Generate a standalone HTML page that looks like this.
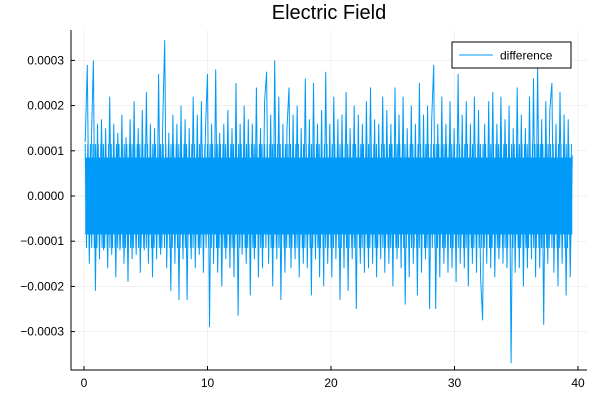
<!DOCTYPE html>
<html><head><meta charset="utf-8"><style>
body{margin:0;background:#fff}
svg{display:block;font-family:"Liberation Sans","DejaVu Sans",sans-serif}
</style></head><body>
<svg id="chart" width="600" height="400">
<text x="329" y="19" text-anchor="middle" font-size="20">Electric Field</text>
<g id="grid"></g>
<g id="series"></g>
<g id="axes"></g>
<g>
<rect x="452" y="42" width="119" height="26" fill="#fff" stroke="#000" stroke-width="1"/>
<line x1="459" y1="55" x2="493" y2="55" stroke="#009af9" stroke-width="1"/>
<text x="500" y="59.5" font-size="12">difference</text>
</g>
</svg>
<script>
const xTicks=[0,10,20,30,40];
const yTicks=[-0.0003,-0.0002,-0.0001,0,0.0001,0.0002,0.0003];
const yTickLabels=["\u22120.0003","\u22120.0002","\u22120.0001","0.0000","0.0001","0.0002","0.0003"];
const xStart=0.1, xStep=0.165;
const bandHalfWidth=[0.85,1.15];
// signal values in units of 1e-4
const values=[
 1.2,2.9,-1.5,1.1,3.0,-2.1,1.6,-1.4,1.7,-1.2,
 1.5,-1.6,2.2,-1.3,1.6,-1.8,1.4,-1.2,1.8,-1.5,
 1.3,-1.9,1.7,-1.4,2.1,-1.3,1.5,-1.7,1.9,-1.2,
 2.3,-1.5,1.6,-1.8,1.5,-1.4,2.7,-1.3,1.6,3.45,
 -1.6,1.4,-2.1,1.8,-1.5,1.6,-2.3,2.0,-1.4,1.7,
 -2.3,1.5,-1.4,2.2,-1.6,1.8,-1.3,2.1,-1.7,1.5,
 2.7,-2.9,1.6,-1.5,2.8,-1.7,1.4,-2.0,1.6,-1.4,
 1.9,-1.6,1.5,-1.8,2.5,-2.65,1.6,-1.3,2.0,-1.5,
 1.7,-2.2,1.6,-1.4,2.4,-1.8,1.5,-1.6,2.1,2.75,
 -1.5,1.8,-2.0,3.0,-1.4,2.2,-2.3,1.6,-1.7,1.5,
 2.4,-1.6,1.8,-1.4,2.0,-1.8,1.5,-1.5,2.6,-1.6,
 1.7,-2.2,2.5,-1.4,1.6,-1.8,1.9,-2.0,2.75,-1.5,
 1.6,-1.8,2.2,-1.4,1.7,-2.3,1.8,-1.6,2.3,-2.1,
 1.5,-1.4,2.0,-2.5,1.8,-1.5,1.6,-1.7,2.1,-1.6,
 2.4,-1.5,1.7,-1.8,1.6,-1.4,2.2,-1.7,1.9,-1.5,
 1.6,-2.0,2.4,-1.4,1.8,-1.6,2.2,-2.4,1.5,-1.8,
 2.0,-1.5,1.6,-2.2,2.5,-1.7,1.8,-1.4,2.0,-2.5,
 1.7,2.9,-2.5,1.6,-1.8,2.2,-1.5,1.6,-1.7,2.1,
 -1.6,1.5,-1.9,2.7,-1.5,1.8,-1.6,2.1,-2.0,1.6,
 -1.5,2.2,-1.7,1.9,-1.8,-2.75,1.6,-1.5,2.1,-1.6,
 2.3,-1.8,1.6,-1.4,2.2,-1.5,1.7,-1.6,2.0,-3.7,
 1.5,-1.7,2.4,-1.6,1.8,-2.0,1.5,-1.6,2.2,-1.4,
 2.6,-1.8,2.9,-1.6,1.7,-2.85,2.1,-1.5,1.9,2.5,
 -1.7,1.6,-2.0,2.3,-1.5,1.8,-2.2,1.7,-1.8,0.9
];
const X=v=>84+(v-0)*12.35;
const Y=v=>196-v*452000;
const ns="http://www.w3.org/2000/svg";
const grid=document.getElementById('grid'),axes=document.getElementById('axes'),series=document.getElementById('series');
function mk(tag,attrs,parent){const e=document.createElementNS(ns,tag);for(const k in attrs)e.setAttribute(k,attrs[k]);parent.appendChild(e);return e;}
xTicks.forEach(t=>{
 const g=mk('line',{x1:X(t),x2:X(t),y1:30,y2:370,stroke:'#000','stroke-opacity':0.1,'stroke-width':0.5},grid);
 
 
 const tk=mk('line',{x1:X(t),x2:X(t),y1:370,y2:366,stroke:'#000'},axes);
 
 
 const l=mk('text',{x:X(t),y:387,'text-anchor':'middle','font-size':12},axes);
 l.textContent=t;
 
 
});
yTicks.forEach((t,i)=>{
 const g=mk('line',{x1:71,x2:587,y1:Y(t),y2:Y(t),stroke:'#000','stroke-opacity':0.1,'stroke-width':0.5},grid);
 
 
 const tk=mk('line',{x1:71,x2:75,y1:Y(t),y2:Y(t),stroke:'#000'},axes);
 
 
 const l=mk('text',{x:64,y:Y(t)+4,'text-anchor':'end','font-size':12},axes);
 l.textContent=yTickLabels[i];
 
 
});
const ax=mk('path',{d:'M71 30V370H587',fill:'none',stroke:'#000','stroke-width':1},axes);


const x0=X(xStart), x1=X(xStart+(values.length-1)*xStep);
// solid core band
const band=mk('rect',{x:x0,y:Y(bandHalfWidth[0]*1e-4),width:x1-x0,height:Y(-bandHalfWidth[0]*1e-4)-Y(bandHalfWidth[0]*1e-4),fill:'#009af9'},series);


// ragged band edges
const core=[];
for(let x=x0,k=0;x<=x1;x+=1.3,k++){const s=(k%2?-1:1);core.push(x.toFixed(1)+','+Y(s*bandHalfWidth[1]*1e-4).toFixed(1));}
const c=mk('polyline',{points:core.join(' '),fill:'none',stroke:'#009af9','stroke-width':1},series);


const pts=values.map((v,i)=>X(xStart+i*xStep).toFixed(1)+','+Y(v*1e-4).toFixed(1));
const p=mk('polyline',{points:pts.join(' '),fill:'none',stroke:'#009af9','stroke-width':1},series);


</script>
</body></html>
